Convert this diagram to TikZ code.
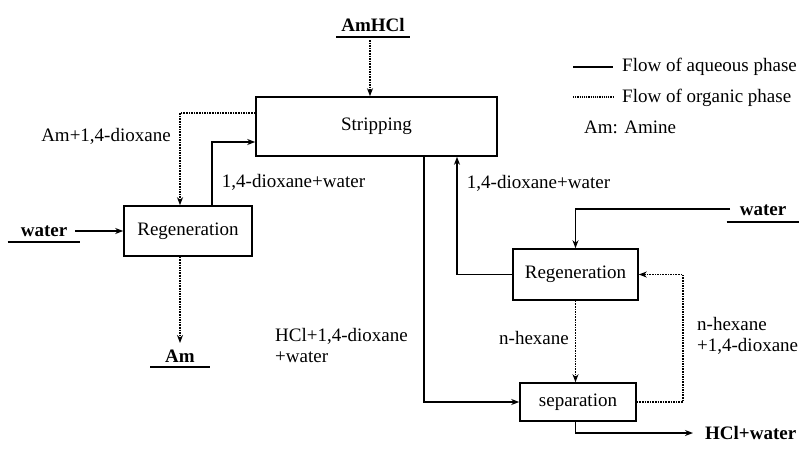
\documentclass[tikz,border=0pt]{standalone}
\usepackage{fontspec}
\setmainfont{Liberation Serif}
\usetikzlibrary{arrows.meta}
\begin{document}
\begin{tikzpicture}[x=1pt,y=-1pt,
  every node/.style={font=\fontsize{19}{21}\selectfont, inner sep=0pt},
  box/.style={draw, line width=1.6pt, inner sep=0pt},
  aq/.style={line width=1.4pt, -{Stealth[length=8pt,width=6pt]}},
  org/.style={line width=1.5pt, dash pattern=on 1.6pt off 1pt, -{Stealth[length=8pt,width=6pt]}},
  feed/.style={font=\fontsize{19}{21}\selectfont\bfseries},
  uline/.style={line width=1.4pt}
]
\useasboundingbox (0,0) rectangle (807,472);

% boxes
\node[box, minimum width=241pt, minimum height=59pt] (strip) at (376.5,126.5) {Stripping};
\node[box, minimum width=128pt, minimum height=50pt] (regL) at (188,231) {Regeneration};
\node[box, minimum width=125pt, minimum height=51pt] (regR) at (575.5,274.5) {Regeneration};
\node[box, minimum width=116pt, minimum height=38pt] (sep) at (578,402) {separation};

% feeds / products
\node[feed, inner xsep=5pt, anchor=base] (amhcl) at (373,31) {AmHCl};
\draw[uline] ([yshift=-6pt]amhcl.base west) -- ([yshift=-6pt]amhcl.base east);
\node[feed, inner xsep=13pt, anchor=base] (waterL) at (44,236) {water};
\draw[uline] ([yshift=-6pt]waterL.base west) -- ([yshift=-6pt]waterL.base east);
\node[feed, inner xsep=15pt, anchor=base] (am) at (180,362) {Am};
\draw[uline] ([yshift=-5pt]am.base west) -- ([yshift=-5pt]am.base east);
\node[feed, inner xsep=13pt, anchor=base] (waterR) at (763,215) {water};
\draw[uline] ([yshift=-7pt]waterR.base west) -- ([yshift=-7pt]waterR.base east);
\node[feed, anchor=west] (hclw) at (705,433) {HCl+water};

% free ends
\coordinate (amIn) at (370,40);
\coordinate (wLin) at (75,231);
\coordinate (wRin) at (730,209);

% connectors
\draw[org] (amIn) -- (amIn |- strip.north);
\draw[org] (strip.west |- 0,113) -| (regL.north -| am.base);
\draw[aq] ([xshift=24pt]regL.north) |- ([yshift=-15.5pt]strip.west);
\draw[aq] (wLin) -- (regL.west);
\draw[org] (regL.south -| am.base) -- ([yshift=19pt]am.base);
\draw[aq] ([xshift=47.5pt]strip.south) |- (sep.west);
\draw[aq] (regR.west) -| ([xshift=80.5pt]strip.south);
\draw[aq] (wRin) -| (regR.north);
\draw[org] (regR.south) -- (regR.south |- sep.north);
\draw[org] (sep.east) -- ++(46,0) |- (regR.east);
\draw[aq] (sep.south -| regR.south) |- ([xshift=-12pt]hclw.west);

% labels
\node (l1) at (106,136) {Am+1,4-dioxane};
\node (l2) at (293.5,182) {1,4-dioxane+water};
\node (l3) at (538.5,183) {1,4-dioxane+water};
\node[align=left, anchor=west] (l4) at (275,345) {HCl+1,4-dioxane\\+water};
\node (l5) at (534,338) {n-hexane};
\node[align=left, anchor=west] (l6) at (697,336) {n-hexane\\+1,4-dioxane};

% legend
\coordinate (lg1a) at (573,67);
\coordinate (lg1b) at (613,67);
\coordinate (lg2a) at (573,97);
\coordinate (lg2b) at (613,97);
\draw[line width=1.1pt] (lg1a) -- (lg1b);
\draw[line width=1.1pt, dash pattern=on 1.2pt off 1pt] (lg2a) -- (lg2b);
\node[anchor=west] (lt1) at (622,67) {Flow of aqueous phase};
\node[anchor=west] (lt2) at (622,98) {Flow of organic phase};
\node[anchor=west] (lt3) at (584,127) {Am: Amine};
\end{tikzpicture}
\end{document}
